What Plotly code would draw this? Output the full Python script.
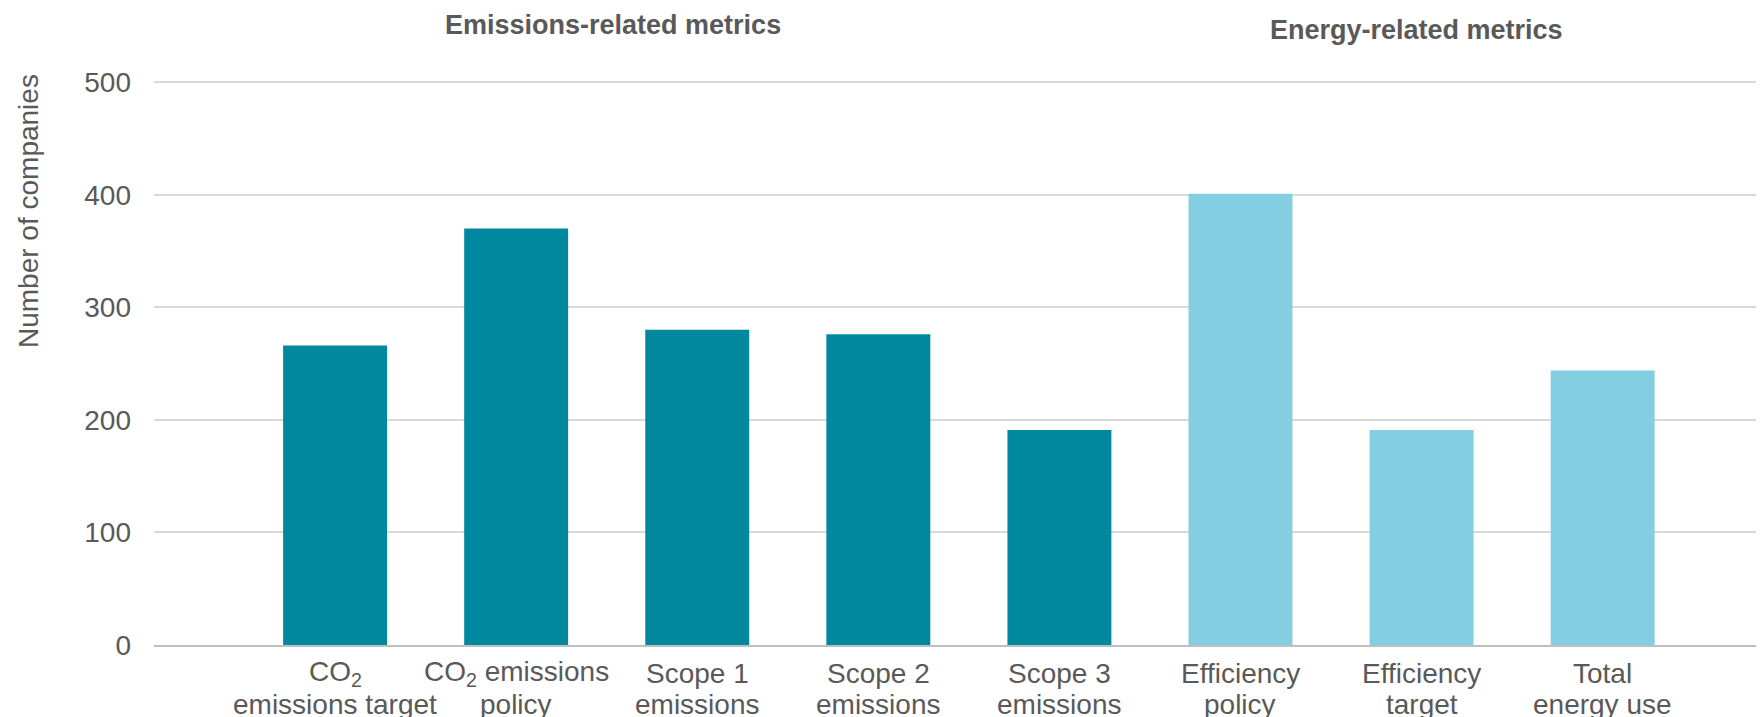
import plotly.graph_objects as go

label_line1 = ["CO<sub>2</sub>", "CO<sub>2</sub> emissions", "Scope 1", "Scope 2", "Scope 3",
               "Efficiency", "Efficiency", "Total"]
label_line2 = ["emissions target", "policy", "emissions", "emissions", "emissions",
               "policy", "target", "energy use"]
values = [266, 370, 280, 276, 191, 401, 191, 244]
groups = ["Emissions", "Emissions", "Emissions", "Emissions", "Emissions", "Energy", "Energy", "Energy"]
group_titles = ["Emissions-related metrics", "Energy-related metrics"]
y_ticks = [0, 100, 200, 300, 400, 500]

color_map = {"Emissions": "#00889E", "Energy": "#83CFE1"}
FONT = "Arial, Liberation Sans, sans-serif"
TXT = "#595959"
FS = 28

# page body has an 8px margin; figure is sized/positioned to compensate
OFF = 8
W, H = 1764 - OFF, 717 - OFF
PLOT_L, PLOT_R, PLOT_T, PLOT_B = 154 - OFF, 1762 - OFF, 80 - OFF, 645 - OFF

xs = list(range(len(values)))
fig = go.Figure()
fig.add_trace(go.Bar(
    x=xs, y=values,
    marker=dict(color=[color_map[g] for g in groups], line=dict(width=0)),
    width=0.574,
    hoverinfo="y",
))

fig.update_layout(
    width=W, height=H,
    margin=dict(l=PLOT_L, r=W - PLOT_R, t=PLOT_T, b=H - PLOT_B, autoexpand=False),
    paper_bgcolor="white", plot_bgcolor="white",
    showlegend=False,
    font=dict(family=FONT, size=FS, color=TXT),
    xaxis=dict(
        range=[-1, 7.88],
        tickmode="array", tickvals=xs, showticklabels=False,
        showgrid=False, zeroline=False, automargin=False,
        showline=True, linecolor="#BFBFBF", linewidth=2,
        ticks="",
    ),
    yaxis=dict(
        range=[0, 502], automargin=False,
        tickmode="array", tickvals=y_ticks,
        showgrid=True, gridcolor="#D9D9D9", gridwidth=2,
        zeroline=False, showline=False,
        ticks="", ticklabelstandoff=22,
        tickfont=dict(size=FS, color=TXT),
    ),
)

ph = PLOT_B - PLOT_T  # plot height in px

def py(page_y):
    """page pixel y -> paper coordinate"""
    return (645 - page_y) / ph

# category labels (two lines each)
for x, l1, l2 in zip(xs, label_line1, label_line2):
    fig.add_annotation(x=x, xref="x", y=py(673), yref="paper", text=l1,
                       showarrow=False, xanchor="center", yanchor="middle",
                       font=dict(size=FS, color=TXT, family=FONT))
    fig.add_annotation(x=x, xref="x", y=py(704), yref="paper", text=l2,
                       showarrow=False, xanchor="center", yanchor="middle",
                       font=dict(size=FS, color=TXT, family=FONT))

# group titles
fig.add_annotation(x=1.533, xref="x", y=py(25), yref="paper", text="<b>" + group_titles[0] + "</b>",
                   showarrow=False, font=dict(size=FS - 1, color=TXT, family=FONT), xanchor="center", yanchor="middle")
fig.add_annotation(x=5.97, xref="x", y=py(30), yref="paper", text="<b>" + group_titles[1] + "</b>",
                   showarrow=False, font=dict(size=FS - 1, color=TXT, family=FONT), xanchor="center", yanchor="middle")

# y-axis title
fig.add_annotation(x=(28 - 154) / (PLOT_R - PLOT_L), xref="paper", y=py(211), yref="paper",
                   text="Number of companies", textangle=-90, showarrow=False,
                   font=dict(size=FS, color=TXT, family=FONT), xanchor="center", yanchor="middle")

fig.write_html("out.html")
